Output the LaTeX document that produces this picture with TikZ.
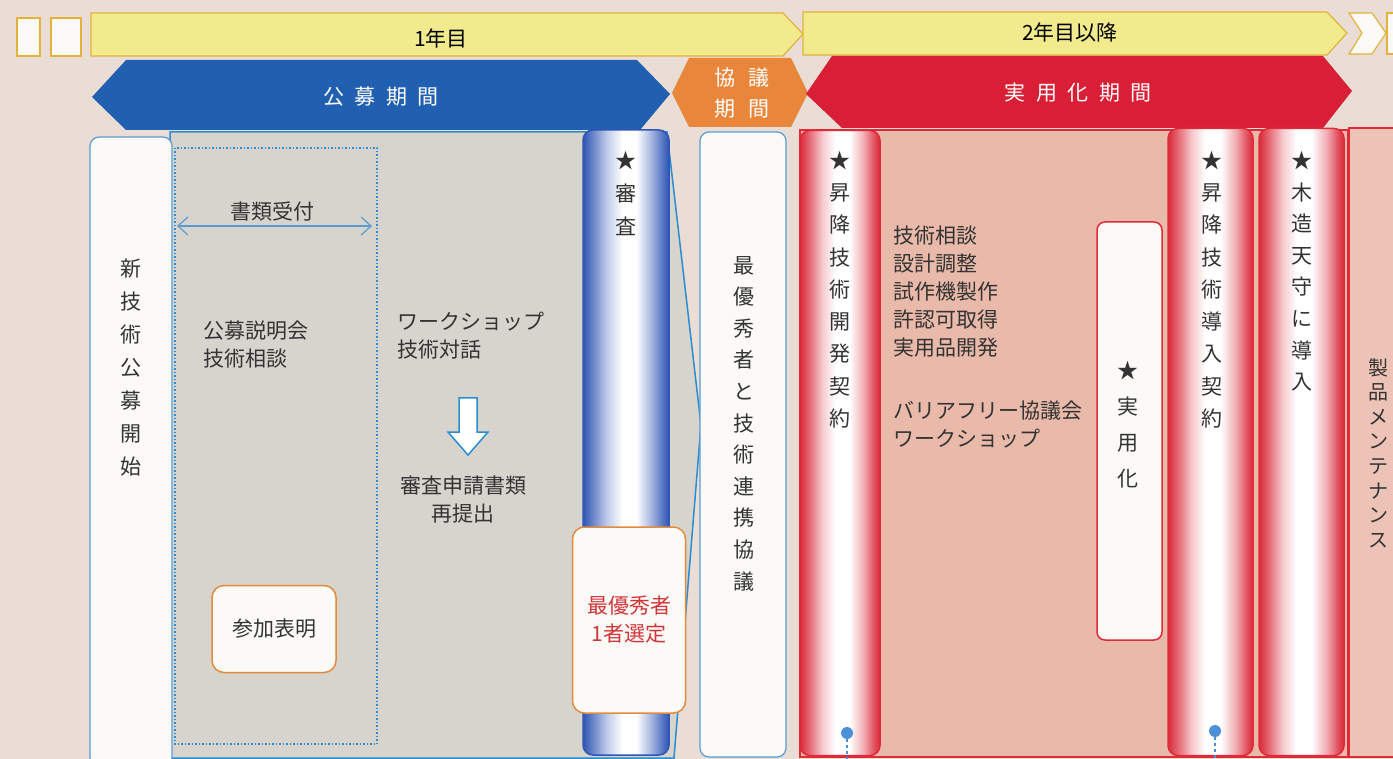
\documentclass[tikz,border=0pt]{standalone}
\usepackage{fontspec}
\setmainfont{Noto Sans CJK JP}
\usetikzlibrary{arrows.meta}
\definecolor{bg}{HTML}{E9DDD6}
\definecolor{ybar}{HTML}{F1EB8E}
\definecolor{yedge}{HTML}{E2B23A}
\definecolor{banblue}{HTML}{2160B0}
\definecolor{banorange}{HTML}{E8873C}
\definecolor{banred}{HTML}{D91F35}
\definecolor{greyp}{HTML}{D7D4CD}
\definecolor{pinkp}{HTML}{E9B9A9}
\definecolor{lineblue}{HTML}{2A8DD0}
\definecolor{boxblue}{HTML}{5B9BD2}
\definecolor{barblue}{HTML}{2F55B5}
\definecolor{barred}{HTML}{DA2A3A}
\definecolor{lred}{HTML}{E02A38}
\definecolor{orline}{HTML}{E28A3E}
\definecolor{txt}{HTML}{333333}
\definecolor{redtxt}{HTML}{D0353A}
\definecolor{dotblue}{HTML}{4C90D8}
\definecolor{paper}{HTML}{FBFAF7}
\pgfdeclarehorizontalshading{redbarsh}{100bp}{color(0bp)=(barred); color(25bp)=(barred); color(30bp)=(barred!75!white); color(39bp)=(barred!25!white); color(47bp)=(white); color(56bp)=(white); color(65bp)=(barred!40!white); color(71bp)=(barred!80!white); color(75bp)=(barred); color(100bp)=(barred)}
\pgfdeclarehorizontalshading{bluebarsh}{100bp}{color(0bp)=(barblue); color(25bp)=(barblue); color(30bp)=(barblue!75!white); color(39bp)=(barblue!30!white); color(48bp)=(white); color(56bp)=(white); color(65bp)=(barblue!45!white); color(71bp)=(barblue!80!white); color(75bp)=(barblue); color(100bp)=(barblue)}
\begin{document}
\begin{tikzpicture}[x=1pt,y=-1pt,
  vt/.style={font=\fontsize{21}{#1}\selectfont, align=center, inner sep=0pt, anchor=north, text=txt},
  ht/.style={font=\fontsize{21}{28}\selectfont, align=left, inner sep=0pt, anchor=north west, text=txt},
  wbox/.style={draw=boxblue, fill=paper, line width=1.2pt, rounded corners=9pt, inner sep=0pt},
  obox/.style={draw=orline, fill=paper, line width=1.5pt, rounded corners=12pt, inner sep=0pt},
  bbar/.style={draw=barblue, line width=1.5pt, rounded corners=10pt, shading=bluebarsh, shade, inner sep=0pt},
  rbar/.style={draw=lred, line width=1.5pt, rounded corners=10pt, shading=redbarsh, shade, inner sep=0pt},
  rwbox/.style={draw=lred, fill=paper, line width=1.5pt, rounded corners=8pt, inner sep=0pt},
  ybarst/.style={fill=ybar, draw=yedge, line width=1.2pt},
  bantext/.style={text=white, font=\fontsize{21}{31}\selectfont, align=center, inner sep=0pt},
  dot/.style={circle, fill=dotblue, inner sep=0pt, minimum size=12pt},
  dotline/.style={draw=dotblue, dashed, line width=1.2pt}
]
\useasboundingbox (0,0) rectangle (1393,759);
\fill[bg] (0,0) rectangle (1393,759);

% top timeline
\draw[ybarst, fill=paper] (17,18) rectangle (40,56);
\draw[ybarst, fill=paper] (51,18) rectangle (81,56);
\draw[ybarst] (91,13) -- (783,13) -- (803,34) -- (783,56) -- (91,56) -- cycle;
\node[font=\fontsize{21}{25}\selectfont, text=black] (y1) at (441,38) {1年目};
\draw[ybarst] (803,12) -- (1327,12) -- (1347,33) -- (1327,55) -- (803,55) -- cycle;
\node[font=\fontsize{21}{25}\selectfont, text=black] (y2) at (1070,33) {2年目以降};
\draw[ybarst, fill=paper] (1349,13) -- (1372,13) -- (1386,33) -- (1372,54) -- (1349,54) -- (1362,33) -- cycle;
\draw[ybarst, fill=paper] (1387,13) rectangle (1400,54);

% banners
\fill[banblue] (92,97) -- (126,60) -- (637,60) -- (670,94) -- (640,130) -- (126,130) -- cycle;
\node[bantext] (kobo) at (381,97) {公\hspace{0.5em}募\hspace{0.5em}期\hspace{0.5em}間};
\fill[banorange] (672,93) -- (689,58) -- (791,58) -- (808,93) -- (791,127) -- (689,127) -- cycle;
\node[bantext] (kyogi) at (742,93) {協\hspace{0.6em}議\\期\hspace{0.6em}間};
\fill[banred] (806,94) -- (832,56) -- (1323,56) -- (1352,91) -- (1323,128) -- (842,128) -- cycle;
\node[bantext] (jitsu) at (1078,93) {実\hspace{0.5em}用\hspace{0.5em}化\hspace{0.5em}期\hspace{0.5em}間};

% panels
\filldraw[fill=greyp, draw=lineblue, line width=1.5pt] (170,132) -- (667,132) -- (701,425) -- (674,758) -- (170,758) -- cycle;
\filldraw[fill=pinkp, draw=lred, line width=1.5pt] (800,130) -- (1348,130) -- (1348,757) -- (800,757) -- cycle;

% left area
\node[wbox, minimum width=82pt, minimum height=630pt] (start) at (131,452) {};
\node[vt=33] (starttxt) at (131,259) {新\\技\\術\\公\\募\\開\\始};
\draw[lineblue, dotted, line width=1.5pt] (175,148) rectangle (377,744);
\coordinate (ra) at (177,226);
\coordinate (rb) at (372,226);
\draw[{Straight Barb[length=10pt,width=18pt]}-{Straight Barb[length=10pt,width=18pt]}, draw=boxblue, line width=1.2pt] (ra) -- (rb);
\node[font=\fontsize{21}{25}\selectfont, text=txt] (shorui) at (272,212) {書類受付};
\node[ht] (setsumei) at (203,321) {公募説明会\\技術相談};
\node[ht] (ws) at (397,312) {ワークショップ\\技術対話};
\filldraw[fill=white, draw=lineblue, line width=1.5pt] (459,398) -- (477,398) -- (477,432) -- (488,432) -- (468,455) -- (448,432) -- (459,432) -- cycle;
\node[ht, anchor=north, align=center] (resub) at (463,476) {審査申請書類\\再提出};
\node[obox, minimum width=124pt, minimum height=87pt, font=\fontsize{21}{25}\selectfont, text=txt] (sanka) at (274,629) {参加表明};

% review
\node[bbar, minimum width=86pt, minimum height=625pt] (shinsa) at (626,442.5) {};
\node[vt=33] (shinsatxt) at (626,151) {★\\審\\査};
\node[obox, minimum width=113pt, minimum height=186pt, text=redtxt, font=\fontsize{21}{28}\selectfont, align=center] (best) at (629,620) {最優秀者\\1者選定};

% collaboration
\node[wbox, minimum width=86pt, minimum height=625pt] (collab) at (743,444.5) {};
\node[vt=31.6] (collabtxt) at (744,256) {最\\優\\秀\\者\\と\\技\\術\\連\\携\\協\\議};

% practical period
\node[rbar, minimum width=80pt, minimum height=625pt] (dev) at (840,443) {};
\node[vt=32.25] (devtxt) at (840,151) {★\\昇\\降\\技\\術\\開\\発\\契\\約};
\node[ht] (list) at (893,226) {技術相談\\設計調整\\試作機製作\\許認可取得\\実用品開発\\[35pt]バリアフリー協議会\\ワークショップ};
\node[rwbox, minimum width=65pt, minimum height=418pt] (jitsuyo) at (1129.5,431) {};
\node[vt=36] (jitsuyotxt) at (1128,361) {★\\実\\用\\化};
\node[rbar, minimum width=85pt, minimum height=627pt] (intro) at (1210.5,442) {};
\node[vt=32.25] (introtxt) at (1212,151) {★\\昇\\降\\技\\術\\導\\入\\契\\約};
\node[rbar, minimum width=85pt, minimum height=627pt] (castle) at (1301.5,442) {};
\node[vt=31.6] (castletxt) at (1302,151) {★\\木\\造\\天\\守\\に\\導\\入};
\node[draw=lred, fill=pinkp!85!white, line width=1.5pt, minimum width=60pt, minimum height=629pt, inner sep=0pt] (maint) at (1379,442.5) {};
\node[vt=24.6, font=\fontsize{20}{24.6}\selectfont] (mainttxt) at (1378,358) {製\\品\\メ\\ン\\テ\\ナ\\ン\\ス};

% dots
\node[dot] (d1) at (847,733) {};
\coordinate (d1e) at (847,759);
\draw[dotline] (d1) -- (d1e);
\node[dot] (d2) at (1215,731) {};
\coordinate (d2e) at (1215,759);
\draw[dotline] (d2) -- (d2e);
\end{tikzpicture}
\end{document}
